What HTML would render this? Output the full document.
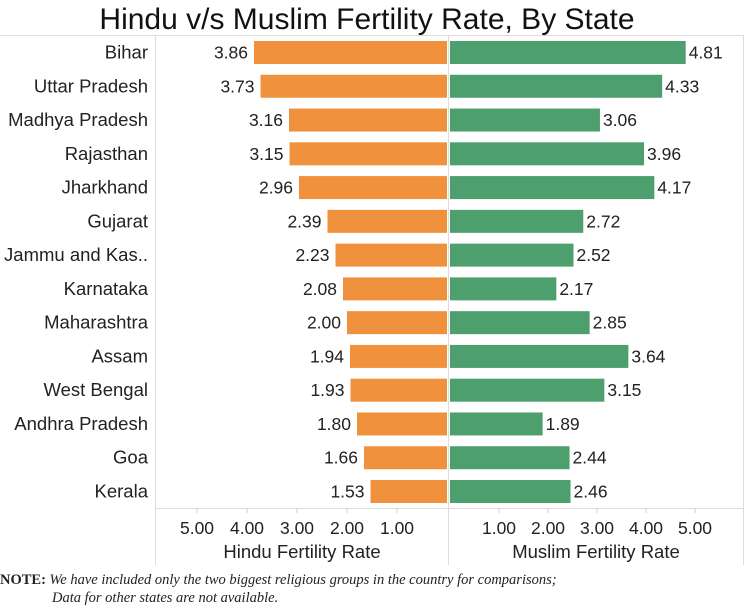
<!DOCTYPE html>
<html><head><meta charset="utf-8"><style>
body{margin:0;background:#fff;width:750px;height:605px;overflow:hidden;font-family:"Liberation Sans",sans-serif}
</style></head><body>
<svg id="c" width="750" height="605" xmlns="http://www.w3.org/2000/svg">
<text x="367" y="29" text-anchor="middle" font-size="30" fill="#111">Hindu v/s Muslim Fertility Rate, By State</text>
<line x1="0" y1="35.5" x2="743" y2="35.5" stroke="#ddd"/>
<line x1="155.5" y1="35" x2="155.5" y2="565" stroke="#ddd"/>
<line x1="743.5" y1="35" x2="743.5" y2="565" stroke="#ddd"/>
<line x1="448.5" y1="35" x2="448.5" y2="565" stroke="#ddd"/>
<line x1="155" y1="508.5" x2="743" y2="508.5" stroke="#ddd"/>
<g id="bars"></g>
<text x="302" y="558" text-anchor="middle" font-size="18.5" fill="#222">Hindu Fertility Rate</text>
<text x="596" y="558" text-anchor="middle" font-size="18.5" fill="#222">Muslim Fertility Rate</text>
<text x="0" y="584" font-family="Liberation Serif,serif" font-size="14.5" fill="#222"><tspan font-weight="bold">NOTE:</tspan><tspan font-style="italic"> We have included only the two biggest religious groups in the country for comparisons;</tspan></text>
<text x="52" y="602" font-family="Liberation Serif,serif" font-size="14.5" font-style="italic" fill="#222">Data for other states are not available.</text>
</svg>
<script>
const states=["Bihar","Uttar Pradesh","Madhya Pradesh","Rajasthan","Jharkhand","Gujarat","Jammu and Kas..","Karnataka","Maharashtra","Assam","West Bengal","Andhra Pradesh","Goa","Kerala"];
const hindu=[3.86,3.73,3.16,3.15,2.96,2.39,2.23,2.08,2.00,1.94,1.93,1.80,1.66,1.53];
const muslim=[4.81,4.33,3.06,3.96,4.17,2.72,2.52,2.17,2.85,3.64,3.15,1.89,2.44,2.46];
const ticks=[1,2,3,4,5];
const NS="http://www.w3.org/2000/svg";
const g=document.getElementById('bars');
const hx=v=>447-v*50, mx=v=>450+v*49, yc=i=>52.5+i*33.77;
function mk(t,a){const e=document.createElementNS(NS,t);for(const k in a)e.setAttribute(k,a[k]);g.appendChild(e);return e;}
states.forEach((s,i)=>{
  const y=yc(i);
  let t=mk('text',{x:148,y:y+6,'text-anchor':'end','font-size':18.5,fill:'#222'});t.textContent=s;
  
  
  let r=mk('rect',{x:hx(hindu[i]),y:y-11.5,width:447-hx(hindu[i]),height:23,fill:'#F0913E'});
  
  
  let l=mk('text',{x:hx(hindu[i])-6,y:y+6,'text-anchor':'end','font-size':17.5,fill:'#222'});l.textContent=hindu[i].toFixed(2);
  
  
  let r2=mk('rect',{x:450,y:y-11.5,width:mx(muslim[i])-450,height:23,fill:'#4E9F6E'});
  
  
  let l2=mk('text',{x:mx(muslim[i])+3,y:y+6,'font-size':17.5,fill:'#222'});l2.textContent=muslim[i].toFixed(2);
  
  
});
ticks.forEach(v=>{
  let a=mk('line',{x1:hx(v),x2:hx(v),y1:508,y2:513,stroke:'#ccc'});
  
  
  let b=mk('text',{x:hx(v),y:534,'text-anchor':'middle','font-size':17.5,fill:'#222'});b.textContent=v.toFixed(2);
  
  
  let c=mk('line',{x1:mx(v),x2:mx(v),y1:508,y2:513,stroke:'#ccc'});
  
  
  let d=mk('text',{x:mx(v),y:534,'text-anchor':'middle','font-size':17.5,fill:'#222'});d.textContent=v.toFixed(2);
  
  
});
</script>
</body></html>
